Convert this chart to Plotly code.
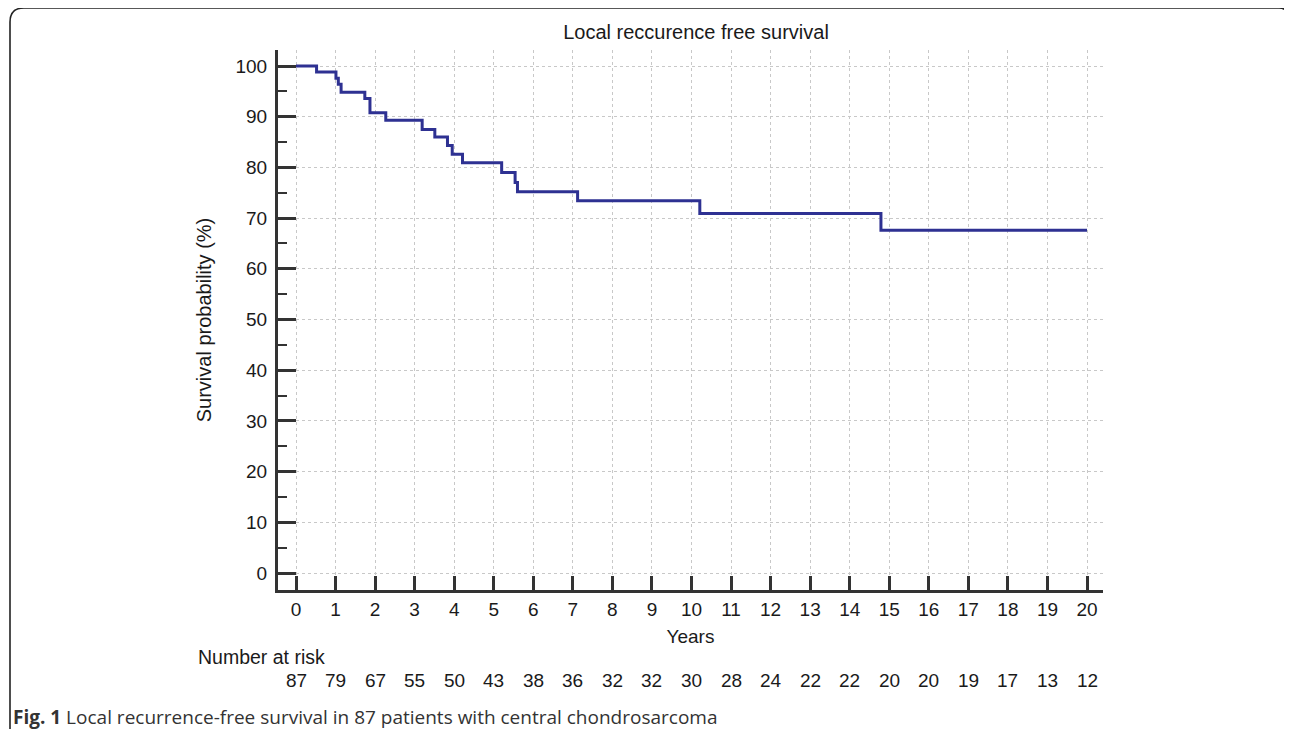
import plotly.graph_objects as go

# page body adds an 8px margin; build the figure to fill the remaining area
OFF = 8
W, H = 1292 - OFF, 730 - OFF

# Kaplan-Meier step data (years, survival %)
times = [0, 0.52, 1.01, 1.07, 1.14, 1.74, 1.87, 2.27, 3.19, 3.51, 3.83, 3.95,
         4.21, 5.20, 5.54, 5.60, 7.12, 10.21, 14.79, 20]
survival = [100, 98.8, 97.6, 96.4, 94.8, 93.6, 90.8, 89.3, 87.5, 86.0, 84.3, 82.6,
            80.9, 79.0, 77.0, 75.2, 73.4, 70.9, 67.6, 67.6]

risk_years = list(range(0, 21))
number_at_risk = [87, 79, 67, 55, 50, 43, 38, 36, 32, 32, 30, 28, 24, 22, 22,
                  20, 20, 19, 17, 13, 12]

x_ticks = list(range(0, 21))
y_ticks = list(range(0, 101, 10))


def px(x):
    return (x - OFF) / W


def py(y):
    return 1 - (y - OFF) / H


AX = "#333333"
TXT = "#1a1a1a"
FONT = "Liberation Sans, Arial, sans-serif"

fig = go.Figure()
fig.add_trace(go.Scatter(
    x=times, y=survival, mode="lines", line_shape="hv",
    line=dict(color="#2E3192", width=3), showlegend=False, hoverinfo="x+y"))

x0_px, x1_px = 278, 1103
y_top_px, y_bot_px = 50, 590
# data mapping: year 0 -> 296 px, year 20 -> 1087 px ; 100% -> 66 px, 0% -> 573 px
sx = (1087 - 296) / 20.0
sy = (573 - 66) / 100.0
xr = [(x0_px - 296) / sx, (x1_px - 296) / sx]
yr = [(573 - y_bot_px) / sy, (573 - y_top_px) / sy]

fig.update_layout(
    width=W, height=H,
    margin=dict(l=0, r=0, t=0, b=0),
    paper_bgcolor="white", plot_bgcolor="white",
    font=dict(family=FONT, size=19, color=TXT),
    title=dict(text="Local reccurence free survival", x=px(696),
               xanchor="center", y=py(32), yanchor="middle",
               font=dict(family=FONT, size=20, color=TXT)),
    xaxis=dict(
        domain=[px(x0_px), px(x1_px)], range=xr, automargin=False,
        tickmode="array", tickvals=x_ticks, ticktext=[str(v) for v in x_ticks],
        ticks="inside", ticklen=14, tickwidth=2.5, tickcolor=AX,
        showline=True, linewidth=3, linecolor=AX, zeroline=False,
        showgrid=True, gridcolor="#c8c8c8", griddash="dot", gridwidth=1,
        tickfont=dict(family=FONT, size=19, color=TXT),
        title=dict(text="Years", standoff=11, font=dict(family=FONT, size=19, color=TXT)),
    ),
    yaxis=dict(
        domain=[py(y_bot_px), py(y_top_px)], range=yr, automargin=False,
        tickmode="array", tickvals=y_ticks, ticktext=[str(v) for v in y_ticks],
        ticks="inside", ticklen=18, tickwidth=2.5, tickcolor=AX,
        ticklabelstandoff=4,
        minor=dict(tickvals=[5, 15, 25, 35, 45, 55, 65, 75, 85, 95], ticks="inside",
                   ticklen=9, tickwidth=2, tickcolor=AX, showgrid=False),
        showline=True, linewidth=3, linecolor=AX, zeroline=False,
        showgrid=True, gridcolor="#c8c8c8", griddash="dot", gridwidth=1,
        tickfont=dict(family=FONT, size=19, color=TXT),
        title=dict(text="Survival probability (%)", standoff=19,
                   font=dict(family=FONT, size=20, color=TXT)),
    ),
)

# Number at risk
fig.add_annotation(text="Number at risk", xref="paper", yref="paper",
                   x=px(196), y=py(657), xanchor="left", yanchor="middle",
                   showarrow=False, font=dict(family=FONT, size=19.5, color=TXT))
for yr_, n in zip(risk_years, number_at_risk):
    fig.add_annotation(text=str(n), xref="x", yref="paper", x=yr_, y=py(680),
                       xanchor="center", yanchor="middle", showarrow=False,
                       font=dict(family=FONT, size=19, color=TXT))

# Caption
fig.add_annotation(
    text="<b>Fig. 1</b> Local recurrence-free survival in 87 patients with central chondrosarcoma",
    xref="paper", yref="paper", x=px(11), y=py(717), xanchor="left", yanchor="middle",
    showarrow=False, font=dict(family="Open Sans, Noto Sans, sans-serif", size=19, color="#333333"))

# Rounded frame
frame = ("M {l},{b} L {l},{t2} Q {l},{t} {l2},{t} L {r2},{t} Q {r},{t} {r},{t2}"
         .format(l=px(10), b=py(729), t2=py(22), t=py(8), l2=px(24), r2=px(1279), r=px(1290)))
fig.add_shape(type="path", path=frame, xref="paper", yref="paper",
              line=dict(color="#222222", width=1.6))

fig.write_html("out.html")
